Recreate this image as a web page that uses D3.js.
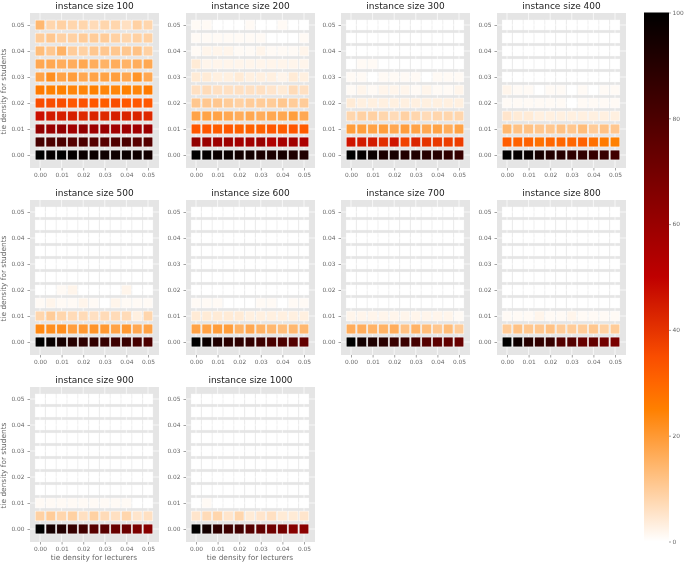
<!DOCTYPE html>
<html><head><meta charset="utf-8">
<script src="https://cdn.jsdelivr.net/npm/d3@7"></script>
<style>html,body{margin:0;padding:0;background:#fff}svg{display:block;filter:blur(0.4px)}text{font-family:"DejaVu Sans",sans-serif}</style>
</head><body><div id="c"></div>
<script>
const densities = [0,0.005,0.01,0.015,0.02,0.025,0.03,0.035,0.04,0.045,0.05];
const tickValues = [0,0.01,0.02,0.03,0.04,0.05];
const instanceSizes = [100,200,300,400,500,600,700,800,900,1000];
const colorbarTicks = [0,20,40,60,80,100];
// rows run from student density 0.00 (first) to 0.05 (last)
const size100 = [
[100,99,100,99,97,97,96,96,97,96,95],[82,80,80,78,80,78,77,79,80,77,78],[62,60,62,58,62,59,60,58,59,58,60],
[47,45,44,44,42,43,42,44,43,43,42],[35,35,35,33,34,33,32,35,33,33,33],[26,25,25,24,24,25,24,24,25,24,26],
[18,22,18,19,17,18,18,19,17,21,17],[17,17,16,16,17,16,15,16,15,16,17],[13,11,15,10,9,11,11,11,11,12,9],
[10,11,9,9,10,10,10,9,8,9,9],[14,8,9,8,8,7,8,8,6,9,8]];
const size200 = [
[100,99,97,97,95,95,93,93,94,92,91],[62,60,59,59,57,58,60,54,56,58,55],[33,33,32,33,31,31,31,33,32,33,32],
[18,18,18,17,16,17,16,17,17,19,17],[11,11,11,10,9,10,10,10,11,10,10],[6,7,6,6,6,6,6,5,4,7,6],
[4,4,3,3,4,3,3,3,2,4,3],[4,2,2,2,2,2,2,2,2,2,2],[1,2,2,2,1,1,2,1,1,1,2],
[1,1,1,1,1,1,1,0,0,0,1],[1,1,0,0,0,1,0,0,1,0,0]];
const size300 = [
[100,99,97,93,94,91,92,90,90,88,86],[46,45,45,41,46,37,43,40,39,38,38],[19,19,18,19,17,19,18,17,18,16,18],
[8,9,9,8,7,9,8,7,8,8,8],[4,3,3,3,3,3,3,3,3,3,3],[1,2,1,2,2,2,1,2,1,1,2],
[1,1,0,1,1,1,1,0,1,1,1],[0,1,1,0,0,0,0,0,0,0,0],[0,0,0,0,0,0,0,0,0,0,0],
[0,0,0,0,0,0,0,0,0,0,0],[0,0,0,0,0,0,0,0,0,0,0]];
const size400 = [
[100,99,98,94,91,90,88,87,86,85,83],[32,31,31,28,30,30,30,31,28,26,25],[14,12,12,11,11,12,11,13,10,12,11],
[5,4,4,3,3,3,3,3,3,3,3],[1,1,1,1,1,1,0,1,1,1,1],[2,1,1,0,1,1,0,1,0,1,1],
[0,0,0,0,0,0,0,0,0,0,0],[0,0,0,0,0,0,0,0,0,0,0],[0,0,0,0,0,0,0,0,0,0,0],
[0,0,0,0,0,0,0,0,0,0,0],[0,0,0,0,0,0,0,0,0,0,0]];
const size500 = [
[100,98,94,90,88,87,86,84,85,82,80],[23,22,22,19,20,21,20,18,20,17,18],[8,10,8,7,7,6,7,7,7,3,8],
[1,2,1,1,2,1,0,2,1,1,1],[0,0,1,2,0,0,0,0,2,0,0],[0,0,0,0,0,0,0,0,0,0,0],
[0,0,0,0,0,0,0,0,0,0,0],[0,0,0,0,0,0,0,0,0,0,0],[0,0,0,0,0,0,0,0,0,0,0],
[0,0,0,0,0,0,0,0,0,0,0],[0,0,0,0,0,0,0,0,0,0,0]];
const size600 = [
[100,97,92,89,88,87,84,81,80,78,74],[18,18,19,19,15,17,15,14,13,14,14],[4,4,4,4,4,3,3,3,3,3,3],
[1,1,1,0,0,0,1,1,0,1,1],[0,0,0,0,0,0,0,0,0,0,0],[0,0,0,0,0,0,0,0,0,0,0],
[0,0,0,0,0,0,0,0,0,0,0],[0,0,0,0,0,0,0,0,0,0,0],[0,0,0,0,0,0,0,0,0,0,0],
[0,0,0,0,0,0,0,0,0,0,0],[0,0,0,0,0,0,0,0,0,0,0]];
const size700 = [
[100,95,92,89,85,85,82,78,76,75,73],[16,16,15,15,16,12,15,13,11,13,10],[2,2,2,2,2,2,2,2,2,2,1],
[0,0,0,0,0,0,0,0,0,0,0],[0,0,0,0,0,0,0,0,0,0,0],[0,0,0,0,0,0,0,0,0,0,0],
[0,0,0,0,0,0,0,0,0,0,0],[0,0,0,0,0,0,0,0,0,0,0],[0,0,0,0,0,0,0,0,0,0,0],
[0,0,0,0,0,0,0,0,0,0,0],[0,0,0,0,0,0,0,0,0,0,0]];
const size800 = [
[100,96,90,87,86,78,78,73,74,70,68],[10,12,11,11,12,10,10,10,11,9,10],[1,1,1,2,1,1,2,1,1,1,1],
[0,0,0,0,0,0,0,0,0,0,0],[0,0,0,0,0,0,0,0,0,0,0],[0,0,0,0,0,0,0,0,0,0,0],
[0,0,0,0,0,0,0,0,0,0,0],[0,0,0,0,0,0,0,0,0,0,0],[0,0,0,0,0,0,0,0,0,0,0],
[0,0,0,0,0,0,0,0,0,0,0],[0,0,0,0,0,0,0,0,0,0,0]];
const size900 = [
[100,94,91,86,83,77,77,73,72,68,65],[9,10,8,9,6,9,7,6,8,5,6],[1,1,1,1,1,1,1,1,1,0,0],
[0,0,0,0,0,0,0,0,0,0,0],[0,0,0,0,0,0,0,0,0,0,0],[0,0,0,0,0,0,0,0,0,0,0],
[0,0,0,0,0,0,0,0,0,0,0],[0,0,0,0,0,0,0,0,0,0,0],[0,0,0,0,0,0,0,0,0,0,0],
[0,0,0,0,0,0,0,0,0,0,0],[0,0,0,0,0,0,0,0,0,0,0]];
const size1000 = [
[100,95,88,84,83,78,75,71,70,65,64],[5,7,8,5,8,4,5,6,4,4,5],[0,1,0,0,0,0,0,0,0,0,0],
[0,0,0,0,0,0,0,0,0,0,0],[0,0,0,0,0,0,0,0,0,0,0],[0,0,0,0,0,0,0,0,0,0,0],
[0,0,0,0,0,0,0,0,0,0,0],[0,0,0,0,0,0,0,0,0,0,0],[0,0,0,0,0,0,0,0,0,0,0],
[0,0,0,0,0,0,0,0,0,0,0],[0,0,0,0,0,0,0,0,0,0,0]];
const panels = [size100,size200,size300,size400,size500,size600,size700,size800,size900,size1000];

// gist_heat_r colormap
const clip = v => Math.max(0, Math.min(1, v));
function heat(v){
  const x = 1 - v/100;
  return d3.rgb(255*clip(1.5*x), 255*clip(2*x-1), 255*clip(4*x-3)).formatRgb();
}

const W=685,H=563;
const svg = d3.select("#c").append("svg").attr("width",W).attr("height",H);
const colX=[30,186,341,497], rowY=[13,200,387], pw=129, ph=155;
const grey="#666666";

panels.forEach((rows,p)=>{
  const c=p%4, r=Math.floor(p/4);
  const g=svg.append("g").attr("transform",`translate(${colX[c]},${rowY[r]})`);
  const x=d3.scaleLinear().domain([0,0.05]).range([10,118]);
  const y=d3.scaleLinear().domain([0,0.05]).range([142,12]);
  g.append("rect").attr("width",pw).attr("height",ph).attr("fill","#e5e5e5");
  g.selectAll(".gx").data(tickValues).join("line").attr("x1",d=>x(d)).attr("x2",d=>x(d)).attr("y1",0).attr("y2",ph).attr("stroke","#fff").attr("stroke-width",0.7);
  g.selectAll(".gy").data(tickValues).join("line").attr("y1",d=>y(d)).attr("y2",d=>y(d)).attr("x1",0).attr("x2",pw).attr("stroke","#fff").attr("stroke-width",0.7);
  const cells=rows.flatMap((row,i)=>row.map((v,j)=>({v,sx:densities[j],sy:densities[i]})));
  g.selectAll("rect.cell").data(cells).join("rect").attr("class","cell")
    .attr("x",d=>x(d.sx)-4.8).attr("y",d=>y(d.sy)-4.9).attr("width",9.6).attr("height",9.8)
    .attr("fill",d=>heat(d.v)).attr("stroke","#fff").attr("stroke-width",0.5);
  const ax=g.append("g").attr("transform",`translate(0,${ph})`).call(d3.axisBottom(x).tickValues(tickValues).tickFormat(d3.format(".2f")).tickSize(2.5).tickPadding(2));
  const ay=g.append("g").call(d3.axisLeft(y).tickValues(tickValues).tickFormat(d3.format(".2f")).tickSize(2.5).tickPadding(3));
  [ax,ay].forEach(a=>{a.select(".domain").remove();a.selectAll("line").attr("stroke",grey).attr("stroke-width",0.6);
    a.selectAll("text").attr("fill",grey).attr("font-size",5.9).attr("font-family",'"DejaVu Sans"');});
  g.append("text").attr("x",pw/2).attr("y",-4).attr("text-anchor","middle").attr("font-size",9).attr("fill","#222").text("instance size "+instanceSizes[p]);
  if(c===0) g.append("text").attr("transform",`translate(-24,${ph/2+1}) rotate(-90)`).attr("text-anchor","middle").attr("font-size",7.4).attr("fill",grey).text("tie density for students");
  if(r===2) g.append("text").attr("x",pw/2-0.5).attr("y",ph+18).attr("text-anchor","middle").attr("font-size",7.4).attr("fill",grey).text("tie density for lecturers");
});

// colour bar
const cb=d3.scaleLinear().domain([0,100]).range([541.5,12.5]);
const grad=svg.append("defs").append("linearGradient").attr("id","cbg").attr("x1",0).attr("x2",0).attr("y1",1).attr("y2",0);
grad.selectAll("stop").data(d3.range(0,101,5)).join("stop").attr("offset",d=>d/100).attr("stop-color",heat);
svg.append("rect").attr("x",644).attr("y",cb(100)).attr("width",25).attr("height",cb(0)-cb(100)).attr("fill","url(#cbg)");
const cax=svg.append("g").attr("transform","translate(669,0)").call(d3.axisRight(cb).tickValues(colorbarTicks).tickSize(2).tickPadding(1.5));
cax.select(".domain").remove();
cax.selectAll("line").attr("stroke",grey).attr("stroke-width",0.6);
cax.selectAll("text").attr("fill",grey).attr("font-size",5.9).attr("font-family",'"DejaVu Sans"');
</script></body></html>
